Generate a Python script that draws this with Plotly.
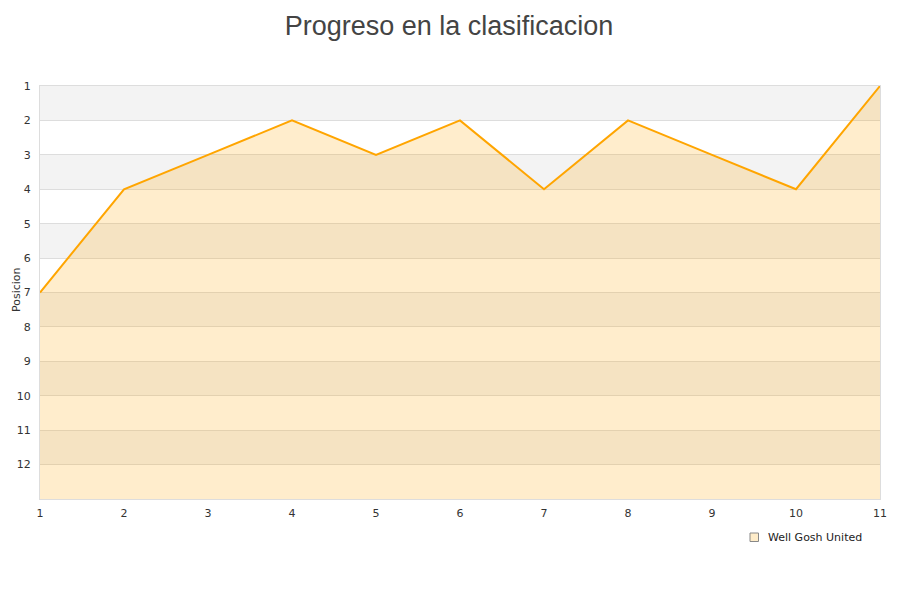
import plotly.graph_objects as go

jornadas = [1, 2, 3, 4, 5, 6, 7, 8, 9, 10, 11]
posicion = [7, 4, 3, 2, 3, 2, 4, 2, 3, 4, 1]
equipo = "Well Gosh United"
fondo = [13] * len(jornadas)
y_ticks = list(range(1, 13))

fig = go.Figure()

# baseline for the area fill
fig.add_trace(go.Scatter(x=jornadas, y=fondo, mode="lines", line=dict(width=0),
                         hoverinfo="skip", showlegend=False))
fig.add_trace(go.Scatter(x=jornadas, y=posicion, mode="lines", name=equipo,
                         line=dict(color="#ffa500", width=2),
                         fill="tonexty", fillcolor="rgba(255,165,0,0.2)",
                         showlegend=False))

# alternating bands
for k in range(1, 13, 2):
    fig.add_shape(type="rect", xref="paper", yref="y", x0=0, x1=1, y0=k, y1=k + 1,
                  fillcolor="#f3f3f3", line=dict(width=0), layer="below")

# plot area: page x 40..880, y 86..499
PW, PH = 840.0, 413.0
def px(x):
    return (x - 40) / PW
def py(y):
    return (499 - y) / PH

# legend (manual)
fig.add_shape(type="rect", xref="paper", yref="paper",
              x0=px(750), x1=px(758.5), y0=py(541.5), y1=py(533),
              fillcolor="#feecc9", line=dict(color="#888888", width=1))

fig.update_layout(
    width=900, height=600,
    margin=dict(l=32, r=28, t=78, b=109, autoexpand=False),
    paper_bgcolor="white", plot_bgcolor="white",
    title=dict(text="Progreso en la clasificacion", x=(449 - 8) / 900, xanchor="center",
               y=0.986, yanchor="top", pad=dict(t=0, b=0),
               font=dict(family="Liberation Sans, Arial", size=27, color="#444444")),
    font=dict(family="DejaVu Sans", size=11, color="#333333"),
    showlegend=False,
    annotations=[
        dict(text="Posicion", xref="paper", yref="paper", x=px(16), y=py(290),
             xanchor="center", yanchor="middle", textangle=-90, showarrow=False,
             font=dict(family="DejaVu Sans", size=11, color="#333333")),
        dict(text=equipo, xref="paper", yref="paper", x=px(766), y=py(537),
             xanchor="left", yanchor="middle", showarrow=False,
             font=dict(family="DejaVu Sans", size=11, color="#222222")),
    ],
)
fig.update_xaxes(range=[1, 11], tickvals=jornadas, showgrid=False, zeroline=False,
                 showline=True, linecolor="#dddddd", linewidth=1, mirror=True,
                 ticks="", ticklabelstandoff=4, tickfont=dict(size=11, color="#333333"))
fig.update_yaxes(range=[13, 1], tickvals=y_ticks, showgrid=True, gridcolor="#dddddd",
                 gridwidth=1, zeroline=False, showline=True, linecolor="#dddddd",
                 linewidth=1, mirror=True, ticks="", ticklabelstandoff=6,
                 tickfont=dict(size=11, color="#333333"))

fig.write_html("out.html")
